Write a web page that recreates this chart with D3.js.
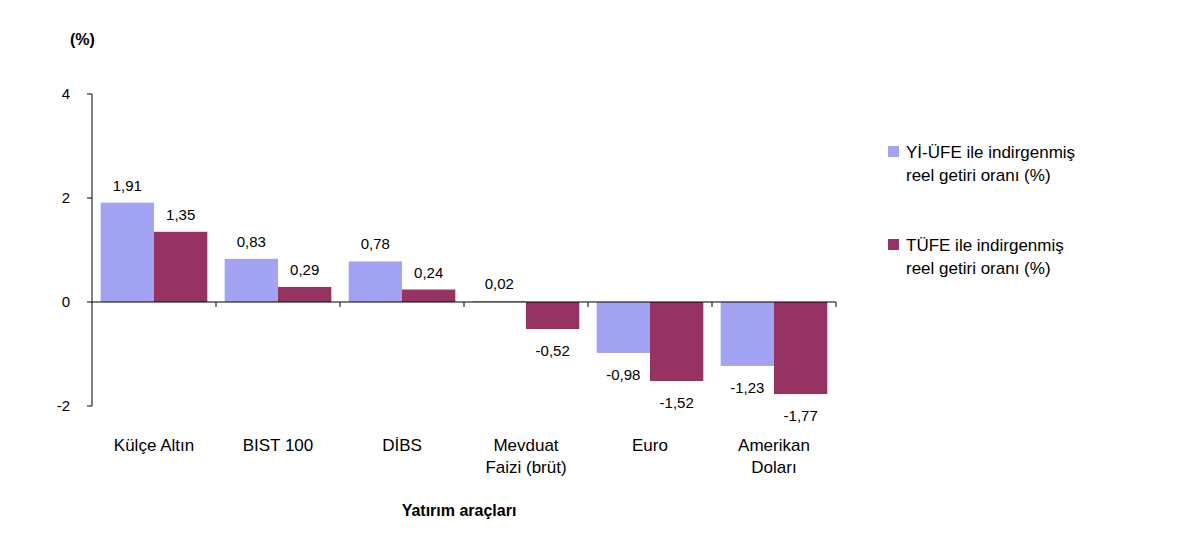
<!DOCTYPE html><html><head><meta charset="utf-8">
<script src="https://cdn.jsdelivr.net/npm/d3@7"></script>
<style>body{margin:0;background:#fff}text{font-family:Arial,"Liberation Sans",sans-serif}</style></head><body>
<svg id="c" width="1200" height="538"></svg>
<script>
const categories=[["Külçe Altın"],["BIST 100"],["DİBS"],["Mevduat","Faizi (brüt)"],["Euro"],["Amerikan","Doları"]];
const seriesNames=[["Yİ-ÜFE ile indirgenmiş","reel getiri oranı (%)"],["TÜFE ile indirgenmiş","reel getiri oranı (%)"]];
const yiufe=[1.91,0.83,0.78,0.02,-0.98,-1.23];
const tufe=[1.35,0.29,0.24,-0.52,-1.52,-1.77];
const yTicks=[4,2,0,-2];
const colors=["#a3a3f4","#963363"];
const svg=d3.select("#c");
const x=d3.scaleBand().domain(d3.range(categories.length)).range([92,836]);
const y=d3.scaleLinear().domain([-2,4]).range([406,94]);
const fmt=v=>v.toFixed(2).replace(".",",");
svg.append("line").attr("x1",92).attr("x2",92).attr("y1",y(4)).attr("y2",y(-2)).attr("stroke","#000");
yTicks.forEach(t=>{svg.append("line").attr("x1",87).attr("x2",92).attr("y1",y(t)).attr("y2",y(t)).attr("stroke","#000");
svg.append("text").attr("x",70).attr("y",y(t)+5).attr("text-anchor","end").attr("font-size",15).text(t);});
svg.append("text").attr("x",70).attr("y",45).attr("font-size",16).attr("font-weight","bold").text("(%)");
const series=[yiufe,tufe];
const bw=x.bandwidth()*0.43;
series.forEach((s,si)=>{
 s.forEach((v,i)=>{
  const x0=x(i)+x.bandwidth()*0.07+si*bw;
  svg.append("rect").attr("x",x0).attr("width",bw).attr("y",y(Math.max(0,v))).attr("height",Math.abs(y(v)-y(0))).attr("fill",colors[si]);
  const ly=v>=0?y(v)-12:y(v)+27;
  svg.append("text").attr("x",x0+bw/2).attr("y",ly).attr("text-anchor","middle").attr("font-size",15).text(fmt(v));
 });
});
svg.append("line").attr("x1",92).attr("x2",836).attr("y1",y(0)).attr("y2",y(0)).attr("stroke","#000");
categories.forEach((c,i)=>{
 if(i>0) svg.append("line").attr("x1",x(i)).attr("x2",x(i)).attr("y1",y(0)).attr("y2",y(0)+5).attr("stroke","#000");
 c.forEach((l,j)=>svg.append("text").attr("x",x(i)+x.bandwidth()/2).attr("y",451+j*22).attr("text-anchor","middle").attr("font-size",17).text(l));
});
svg.append("line").attr("x1",836).attr("x2",836).attr("y1",y(0)).attr("y2",y(0)+5).attr("stroke","#000");
svg.append("text").attr("x",459).attr("y",516).attr("text-anchor","middle").attr("font-size",16).attr("font-weight","bold").text("Yatırım araçları");
seriesNames.forEach((n,i)=>{
 const yy=146+i*93;
 svg.append("rect").attr("x",888).attr("y",yy).attr("width",11).attr("height",11).attr("fill",colors[i]);
 n.forEach((l,j)=>svg.append("text").attr("x",906).attr("y",yy+12+j*23).attr("font-size",17).text(l));
});
</script></body></html>
